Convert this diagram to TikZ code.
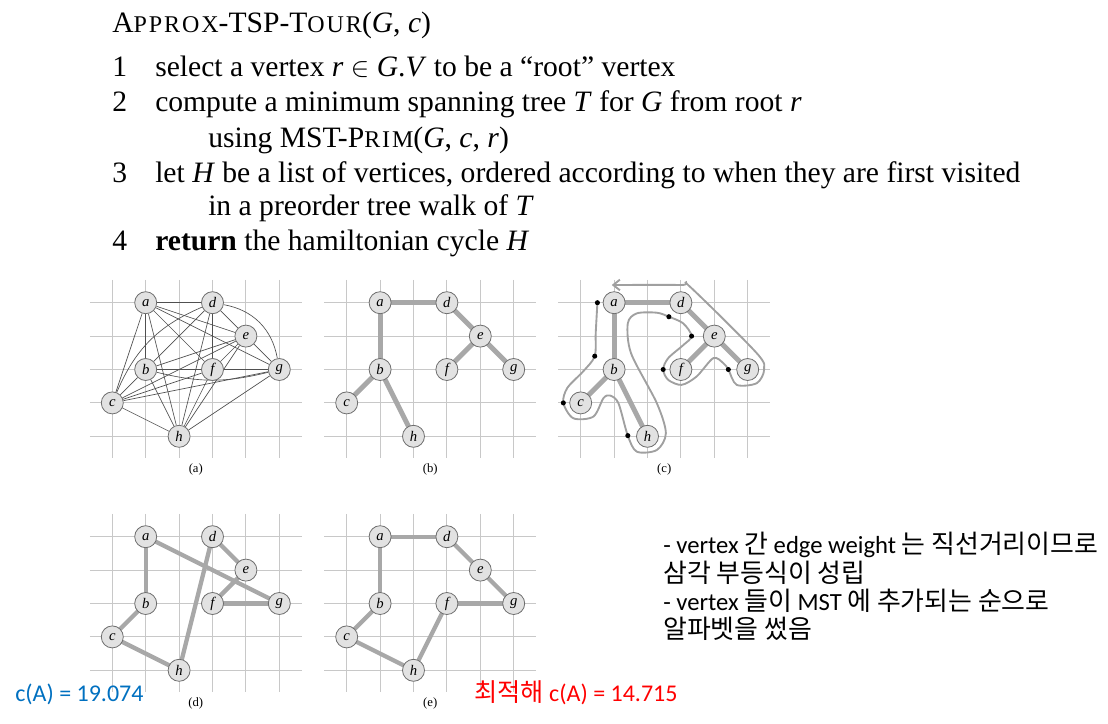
\documentclass[tikz,border=0pt]{standalone}
\usepackage{fontspec}
\setmainfont{Liberation Serif}
\newfontfamily\krfont[Scale=1.05]{Noto Sans CJK KR}
\newfontfamily\calfont{Carlito}
\newfontfamily\scfont[LetterSpace=8]{Liberation Serif}
\usetikzlibrary{arrows.meta}
\pgfdeclarelayer{gridl}
\pgfdeclarelayer{bg}
\pgfsetlayers{gridl,bg,main}
\definecolor{gridc}{HTML}{C8C8C8}
\definecolor{nodefill}{HTML}{E2E2E2}
\definecolor{nodedraw}{HTML}{6E6E6E}
\definecolor{treec}{HTML}{A8A8A8}
\definecolor{walkc}{HTML}{A0A0A0}
\definecolor{edgec}{HTML}{505050}
\definecolor{bluet}{HTML}{0070C0}
\definecolor{redt}{HTML}{FF0000}
\newcommand\K[1]{{\krfont #1}}
\newcommand\SC[1]{{\scfont\fontsize{18}{20}\selectfont #1}}
\newcommand\graphbase[1]{%
  \begin{pgfonlayer}{gridl}
    \foreach \rr in {0,...,4} {\draw[gridline] (-0.67,\rr) -- (5.68,\rr);}
    \foreach \cc in {0,...,5} {\draw[gridline] (\cc,-0.68) -- (\cc,4.66);}
  \end{pgfonlayer}
  \node[vtx] (#1a) at (1,0) {a};
  \node[vtx] (#1b) at (1,2) {b};
  \node[vtx] (#1c) at (0,3) {c};
  \node[vtx] (#1d) at (3,0) {d};
  \node[vtx] (#1e) at (4,1) {e};
  \node[vtx] (#1f) at (3,2) {f};
  \node[vtx] (#1g) at (5,2) {g};
  \node[vtx] (#1h) at (2,4) {h};
}
\begin{document}
\begin{tikzpicture}[x=0.75pt,y=-0.75pt,
  gridline/.style={draw=gridc,line width=0.75pt},
  vtx/.style={circle,draw=nodedraw,fill=nodefill,line width=0.6pt,minimum size=16.5pt,inner sep=0pt,font=\fontsize{11}{11}\selectfont\itshape},
  thinedge/.style={draw=edgec,line width=0.5pt},
  treeedge/.style={draw=treec,line width=3.7pt},
  walkpath/.style={draw=walkc,line width=1.4pt},
  walkdot/.style={circle,fill=black,minimum size=3.8pt,inner sep=0pt},
  captext/.style={font=\fontsize{9.5}{10}\selectfont},
  algo/.style={anchor=base west,inner sep=0pt,font=\fontsize{22.2}{26}\selectfont},
  notetext/.style={anchor=base west,inner sep=0pt,font=\fontsize{18.5}{20}\calfont},
  costtext/.style={anchor=base west,inner sep=0pt,font=\fontsize{18}{20}\calfont},
]
\useasboundingbox (0,0) rectangle (1108,724);

% ---------- algorithm ----------
\node[algo] (title) at (112,33) {A\SC{PPROX}-TSP-T\SC{OUR}(\textit{G}, \textit{c})};
\node[algo] (n1) at (112,77) {1};
\node[algo] (l1) at (155,77) {select a vertex \textit{r} $\in$ \textit{G}.\textit{V} to be a ``root'' vertex};
\node[algo] (n2) at (112,112) {2};
\node[algo] (l2) at (155,112) {compute a minimum spanning tree \textit{T} for \textit{G} from root \textit{r}};
\node[algo] (l2b) at (208,147) {using MST-P\SC{RIM}(\textit{G}, \textit{c}, \textit{r})};
\node[algo] (n3) at (112,182) {3};
\node[algo] (l3) at (155,182) {let \textit{H} be a list of vertices, ordered according to when they are first visited};
\node[algo] (l3b) at (208,215) {in a preorder tree walk of \textit{T}};
\node[algo] (n4) at (112,250) {4};
\node[algo] (l4) at (155,250) {\textbf{return} the hamiltonian cycle \textit{H}};

% ---------- (a) ----------
\begin{scope}[shift={(112.3,302.7)},x=25.05pt,y=-25.05pt]
  \graphbase{A}
  \begin{pgfonlayer}{bg}
    \foreach \u/\v in {a/b,a/c,a/d,a/e,a/f,a/g,a/h,b/c,b/d,b/e,b/f,b/h,c/e,c/f,c/g,c/h,d/e,d/f,d/h,e/f,e/g,e/h,f/g,f/h,g/h}
      {\draw[thinedge] (A\u) -- (A\v);}
    \draw[thinedge] (Ab) to[bend right=14] (Ag);
    \draw[thinedge] (Ac) to[bend left=22] (Ad);
    \draw[thinedge] (Ad) to[bend left=35] (Ag);
  \end{pgfonlayer}
  \node[captext] (capA) at (2.5,5.0) {(a)};
\end{scope}

% ---------- (b) ----------
\begin{scope}[shift={(346.7,302.7)},x=25.05pt,y=-25.05pt]
  \graphbase{B}
  \begin{pgfonlayer}{bg}
    \foreach \u/\v in {a/d,a/b,d/e,e/f,e/g,b/c,b/h}
      {\draw[treeedge] (B\u.center) -- (B\v.center);}
  \end{pgfonlayer}
  \node[captext] (capB) at (2.5,5.0) {(b)};
\end{scope}

% ---------- (c) ----------
\begin{scope}[shift={(580.7,302.7)},x=25.05pt,y=-25.05pt]
  \graphbase{C}
  \begin{pgfonlayer}{bg}
    \foreach \u/\v in {a/d,a/b,d/e,e/f,e/g,b/c,b/h}
      {\draw[treeedge] (C\u.center) -- (C\v.center);}
    \draw[walkpath,-{Straight Barb[length=5pt,width=8pt]}] plot[smooth,tension=0.5] coordinates {
      (0.5,0) (0.45,0.9) (0.42,1.6) (0.08,2.05) (-0.4,2.55) (-0.52,3.0) (-0.22,3.46) (0.38,3.41)
      (0.68,2.86) (0.88,2.78) (1.13,3.01) (1.41,3.98) (1.68,4.46) (2.28,4.41) (2.55,3.91)
      (2.28,3.01) (1.51,1.52) (1.41,0.62) (1.68,0.32) (2.28,0.3) (2.64,0.42) (3.07,0.62)
      (3.32,1.0) (3.07,1.27) (2.62,1.66) (2.47,2.0) (2.62,2.31) (3.02,2.46) (3.47,2.21)
      (3.97,1.66) (4.27,1.81) (4.42,2.0) (4.67,2.46) (5.27,2.41) (5.49,2.01) (5.27,1.51)
      (3.27,-0.48) (3.02,-0.53) (0.93,-0.53)};
  \end{pgfonlayer}
  \node[walkdot] (wa) at (0.5,0) {};
  \node[walkdot] (wb) at (0.42,1.6) {};
  \node[walkdot] (wc) at (-0.52,3.0) {};
  \node[walkdot] (wh) at (1.41,3.98) {};
  \node[walkdot] (wd) at (2.64,0.42) {};
  \node[walkdot] (we) at (3.32,1.0) {};
  \node[walkdot] (wf) at (2.47,2.0) {};
  \node[walkdot] (wg) at (4.42,2.0) {};
  \node[captext] (capC) at (2.5,5.0) {(c)};
\end{scope}

% ---------- (d) ----------
\begin{scope}[shift={(112.3,536.7)},x=25.05pt,y=-25.05pt]
  \graphbase{D}
  \begin{pgfonlayer}{bg}
    \foreach \u/\v in {a/b,b/c,c/h,h/d,d/e,e/f,f/g,g/a}
      {\draw[treeedge,line width=3.2pt] (D\u.center) -- (D\v.center);}
  \end{pgfonlayer}
  \node[captext] (capD) at (2.5,5.0) {(d)};
\end{scope}

% ---------- (e) ----------
\begin{scope}[shift={(346.7,536.7)},x=25.05pt,y=-25.05pt]
  \graphbase{E}
  \begin{pgfonlayer}{bg}
    \foreach \u/\v in {a/b,b/c,c/h,h/f,f/g,g/e,e/d,d/a}
      {\draw[treeedge,line width=3.2pt] (E\u.center) -- (E\v.center);}
  \end{pgfonlayer}
  \node[captext] (capE) at (2.5,5.0) {(e)};
\end{scope}

% ---------- notes ----------
\node[notetext] (t1) at (663,553) {- vertex \K{간} edge weight \K{는 직선거리이므로}};
\node[notetext] (t2) at (663,582) {\K{삼각 부등식이 성립}};
\node[notetext] (t3) at (663,610) {- vertex \K{들이} MST \K{에 추가되는 순으로}};
\node[notetext] (t4) at (663,638) {\K{알파벳을 썼음}};

\node[costtext,text=bluet] (costd) at (15,701) {c(A) = 19.074};
\node[costtext,text=redt] (coste) at (474,701) {\K{최적해} c(A) = 14.715};
\end{tikzpicture}
\end{document}
